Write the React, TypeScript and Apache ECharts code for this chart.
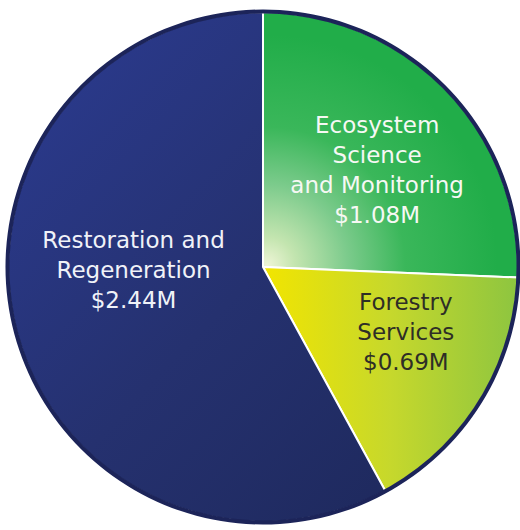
import React, { useEffect, useRef } from "react";
import * as echarts from "echarts";

const categories = [
  "Ecosystem Science and Monitoring",
  "Forestry Services",
  "Restoration and Regeneration",
];
const labelNames = [
  "Ecosystem\nScience\nand Monitoring",
  "Forestry\nServices",
  "Restoration and\nRegeneration",
];
const values = [1.08, 0.69, 2.44];
const labelColors = ["#f6f8f4", "#2e2e26", "#f0f2f8"];
const labelOffsets: [number, number][] = [
  [20, -7],
  [32, -4],
  [-3, -29],
];

export default function App() {
  const ref = useRef<HTMLDivElement>(null);
  useEffect(() => {
    document.body.style.margin = "0";
    const chart = echarts.init(ref.current!, null, { renderer: "svg" });
    const cx = 263;
    const cy = 267;
    const fills = [
      new echarts.graphic.RadialGradient(
        cx + 4,
        cy - 2,
        230,
        [
          { offset: 0, color: "#eef5d6" },
          { offset: 0.12, color: "#c4e5b0" },
          { offset: 0.35, color: "#7ccb8c" },
          { offset: 0.6, color: "#3ab75a" },
          { offset: 1, color: "#21ad49" },
        ],
        true
      ),
      new echarts.graphic.LinearGradient(
        cx,
        320,
        518,
        320,
        [
          { offset: 0, color: "#f2e500" },
          { offset: 0.5, color: "#c6d82c" },
          { offset: 1, color: "#8dc540" },
        ],
        true
      ),
      new echarts.graphic.LinearGradient(
        20,
        120,
        420,
        500,
        [
          { offset: 0, color: "#2a398a" },
          { offset: 0.5, color: "#25316f" },
          { offset: 1, color: "#1e295d" },
        ],
        true
      ),
    ];
    chart.setOption({
      animation: false,
      backgroundColor: "#ffffff",
      series: [
        {
          type: "pie",
          center: [cx, cy],
          radius: [0, 255],
          startAngle: 90,
          clockwise: true,
          silent: true,
          labelLine: { show: false },
          itemStyle: { borderColor: "#ffffff", borderWidth: 2 },
          data: categories.map((c, i) => ({
            name: c,
            value: values[i],
            itemStyle: { color: fills[i] },
            label: {
              show: true,
              position: "inside",
              formatter: () => `${labelNames[i]}\n$${values[i].toFixed(2)}M`,
              color: labelColors[i],
              fontFamily: "DejaVu Sans",
              fontWeight: "normal",
              fontSize: 23,
              lineHeight: 30,
              align: "center",
              offset: labelOffsets[i],
              textBorderWidth: 0,
            },
          })),
        },
        {
          type: "pie",
          center: [cx, cy],
          radius: [253.5, 257.5],
          silent: true,
          label: { show: false },
          labelLine: { show: false },
          itemStyle: { color: "#1c2459" },
          data: [{ name: "outline", value: 1 }],
        },
      ],
    });
    return () => chart.dispose();
  }, []);
  return <div ref={ref} style={{ width: 520, height: 530 }} />;
}
